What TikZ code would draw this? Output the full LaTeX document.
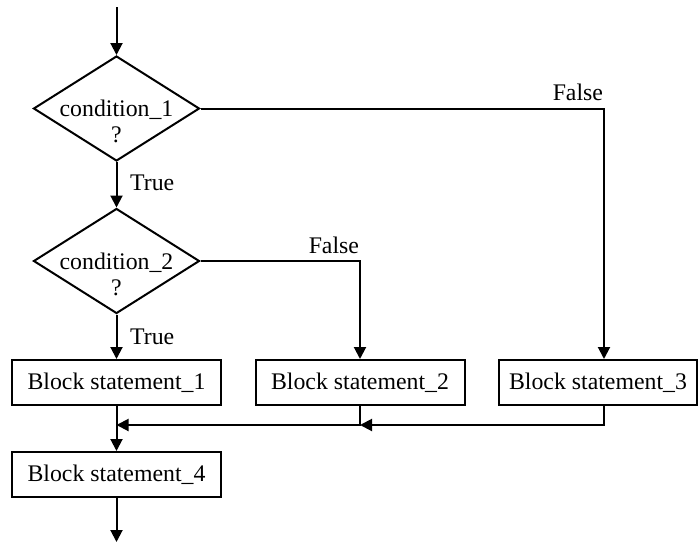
\documentclass[tikz,border=0pt]{standalone}
\usepackage{fontspec}
\setmainfont{Liberation Serif}
\usepackage{tikz}
\usetikzlibrary{shapes.geometric,arrows.meta}

\begin{document}
\begin{tikzpicture}[x=0.5pt, y=-0.5pt, line width=1pt,
		font=\fontsize{11.9pt}{13pt}\selectfont,
		decision/.style={draw, diamond, inner sep=0pt, minimum width=83pt, minimum height=52.5pt},
		block/.style={draw, rectangle, inner sep=0pt, minimum width=104.5pt, minimum height=22.5pt},
		arr/.style={-{Triangle[length=6pt,width=6pt]}}]
				\useasboundingbox (0,0) rectangle (698,542);
				% decisions
				\coordinate (start) at (116.5,7);
				\node[decision] (c1) at (116.5,108.5) {};
				\node[align=center] (t1) at (116.5,121.5) {condition\_1\\?};
				\node[decision] (c2) at (116.5,261) {};
				\node[align=center] (t2) at (116.5,274) {condition\_2\\?};
				% blocks
				\node[block] (b1) at (116.5,382.5) {Block statement\_1};
				\node[block] (b2) at (360,382.5) {Block statement\_2};
				\node[block, minimum width=99pt] (b3) at (598,382.5) {Block statement\_3};
				\node[block] (b4) at (116.5,474.5) {Block statement\_4};
				\coordinate (stop) at (116.5,542);
				\coordinate (f1) at (604,108.5);
				\coordinate (f2) at (360,261);
				\coordinate (m1) at (116.5,425);
				\coordinate (m2) at (360,425);
				\coordinate (m3) at (604,425);
				% flow
				\draw[arr] (start) -- (c1.north);
				\draw[arr] (c1.south) -- node[pos=.45, right=3pt] (yes1) {True} (c2.north);
				\draw[arr] (c2.south) -- node[right=3pt] (yes2) {True} (b1.north);
				\draw[arr] (c1.east) -- (f1) -- (f1 |- b3.north);
				\draw[arr] (c2.east) -- (f2) -- (b2.north);
				\node[anchor=south east, inner xsep=0pt] (no1) at (f1) {False};
				\node[anchor=south east, inner xsep=0pt] (no2) at (f2) {False};
				\draw[arr] (b1.south) -- (b4.north);
				\draw[arr] (b2.south) -- (m2) -- (m1);
				\draw[arr] (b3.south -| m3) -- (m3) -- (m2);
				\draw[arr] (b4.south) -- (stop);
			\end{tikzpicture}
\end{document}
